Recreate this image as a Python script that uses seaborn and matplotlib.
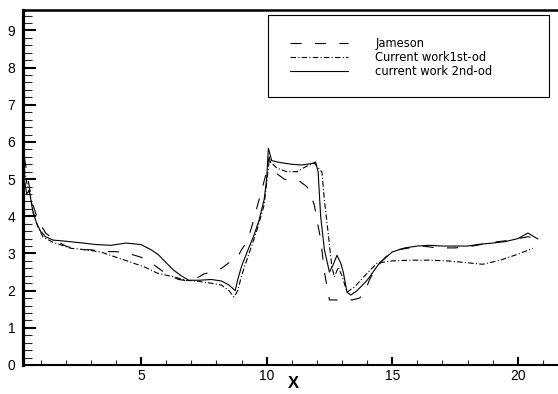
import matplotlib
matplotlib.use("Agg")
import matplotlib.pyplot as plt
from matplotlib.patches import Rectangle
from matplotlib.ticker import MultipleLocator
import seaborn as sns
import pandas as pd

# ---- data ----
x_jameson = [0.35, 0.45, 0.55, 0.7, 0.9, 1.2, 1.6, 2.0, 2.5, 3.0, 3.5, 4.0, 4.5, 5.0, 5.5, 6.0,
             6.5, 7.0, 7.5, 7.8, 8.2, 8.5, 8.8, 9.0, 9.2, 9.4, 9.6, 9.8, 10.0, 10.1, 10.2, 10.4,
             10.7, 11.0, 11.3, 11.6, 11.75, 11.9, 12.0, 12.15, 12.3, 12.5, 12.8, 13.1, 13.4,
             13.7, 13.9, 14.1, 14.4, 14.8, 15.2, 15.7, 16.2, 16.8, 17.5, 18.2, 19.0, 19.6,
             20.0, 20.4, 20.8]
y_jameson = [5.6, 5.2, 4.8, 4.3, 3.9, 3.55, 3.35, 3.2, 3.1, 3.1, 3.05, 3.05, 3.0, 2.9, 2.7, 2.45,
             2.3, 2.25, 2.45, 2.5, 2.6, 2.75, 2.85, 3.1, 3.3, 3.7, 4.2, 4.7, 5.2, 5.6, 5.3, 5.15,
             5.0, 4.95, 4.95, 4.8, 4.6, 4.3, 3.9, 3.4, 2.5, 1.75, 1.75, 1.78, 1.75,
             1.8, 1.95, 2.3, 2.65, 2.95, 3.1, 3.15, 3.2, 3.15, 3.15, 3.2, 3.3, 3.35,
             3.4, 3.45, 3.4]

x_first = [0.35, 0.45, 0.6, 0.75, 0.9, 1.1, 1.5, 2.2, 2.8, 3.4, 4.0, 4.7, 5.2, 5.65, 6.3, 6.8,
           7.3, 7.8, 8.2, 8.5, 8.7, 8.85, 9.0, 9.3, 9.6, 9.9, 10.1, 10.4, 10.8, 11.2, 11.6,
           11.9, 12.2, 12.3, 12.45, 12.6, 12.7, 12.85, 13.0, 13.2, 13.5, 14.0, 14.4, 15.0,
           15.7, 16.5, 17.2, 17.7, 18.6, 19.3, 20.0, 20.6]
y_first = [5.3, 4.9, 4.5, 4.0, 3.7, 3.44, 3.3, 3.14, 3.1, 3.04, 2.9, 2.74, 2.62, 2.47, 2.37, 2.28,
           2.25, 2.2, 2.15, 2.0, 1.83, 2.0, 2.4, 3.0, 3.6, 4.3, 5.5, 5.3, 5.2, 5.2, 5.35,
           5.43, 5.19, 4.43, 3.55, 2.63, 2.37, 2.63, 2.4, 1.96, 2.1, 2.47, 2.74, 2.8,
           2.82, 2.82, 2.8, 2.77, 2.71, 2.82, 2.98, 3.14]

x_second = [0.35, 0.45, 0.55, 0.7, 0.85, 1.0, 1.2, 1.5, 2.0, 2.7, 3.2, 3.8, 4.4, 5.0, 5.4, 5.7,
            6.0, 6.3, 6.6, 6.9, 7.3, 7.8, 8.2, 8.5, 8.75, 8.85, 9.0, 9.2, 9.5, 9.7, 9.9, 10.0,
            10.07, 10.2, 10.5, 11.0, 11.4, 11.8, 11.95, 12.05, 12.15, 12.3, 12.5, 12.65, 12.8,
            12.95, 13.05, 13.2, 13.35, 13.6, 14.0, 14.5, 15.0, 15.5, 16.0, 16.5, 17.0, 17.5,
            18.0, 18.5, 19.0, 19.5, 20.0, 20.4, 20.8]
y_second = [5.0, 4.6, 4.7, 4.1, 3.8, 3.6, 3.45, 3.36, 3.33, 3.28, 3.24, 3.22, 3.28, 3.24, 3.1, 2.96,
            2.75, 2.55, 2.4, 2.28, 2.28, 2.3, 2.26, 2.15, 2.0, 2.3, 2.65, 3.0, 3.5, 3.9, 4.45, 5.0,
            5.83, 5.5, 5.45, 5.4, 5.38, 5.42, 5.46, 5.2, 4.0, 3.1, 2.5, 2.7, 2.95,
            2.74, 2.5, 1.96, 1.88, 2.0, 2.28, 2.75, 3.04, 3.15, 3.2, 3.22, 3.2, 3.2,
            3.2, 3.25, 3.28, 3.32, 3.4, 3.55, 3.39]

labels = ["Jameson", "Current work1st-od", "current work 2nd-od"]
x_ticks = [5, 10, 15, 20]
y_ticks = [0, 1, 2, 3, 4, 5, 6, 7, 8, 9]

df = pd.concat([
    pd.DataFrame({"x": x_jameson, "y": y_jameson, "series": labels[0]}),
    pd.DataFrame({"x": x_first, "y": y_first, "series": labels[1]}),
    pd.DataFrame({"x": x_second, "y": y_second, "series": labels[2]}),
], ignore_index=True)

sns.set_theme(style="white")
plt.rcParams["font.family"] = ["Liberation Sans", "DejaVu Sans"]

W, H = 558, 394
fig = plt.figure(figsize=(W / 100, H / 100), dpi=100)
ax = fig.add_axes([23 / W, (H - 365) / H, (W - 23) / W, (365 - 10) / H])

dash_map = {labels[0]: (10, 12), labels[1]: (5, 2, 1, 2), labels[2]: ""}
sns.lineplot(data=df, x="x", y="y", style="series", style_order=labels, dashes=dash_map,
             color="black", linewidth=0.8, sort=False, estimator=None, ax=ax)

ax.set_xlim(0.3, 21.6)
ax.set_ylim(0, 9.55)
ax.set_xticks(x_ticks)
ax.set_yticks(y_ticks)
ax.xaxis.set_minor_locator(MultipleLocator(1))
ax.yaxis.set_minor_locator(MultipleLocator(0.2))

ax.tick_params(axis="y", which="major", direction="in", length=9.4, width=1.5,
               labelsize=10, pad=5.5, colors="black", left=True)
ax.tick_params(axis="y", which="minor", direction="in", length=6.3, width=0.8, left=True)
ax.tick_params(axis="x", which="major", direction="in", length=6, width=1.5,
               labelsize=10, pad=3, colors="black", bottom=True)
ax.tick_params(axis="x", which="minor", direction="in", length=3.6, width=0.8, bottom=True)

for side, lw in [("left", 2.3), ("bottom", 1.5), ("top", 1.8)]:
    ax.spines[side].set_linewidth(lw)
    ax.spines[side].set_color("black")
ax.spines["right"].set_visible(False)

ax.set_ylabel("")
ax.set_xlabel("")
fig.text(293 / W, 1 - 383 / H, "X", ha="center", va="center", fontsize=12,
         fontweight="bold", color="black")

handles, labs = ax.get_legend_handles_labels()
hl = dict(zip(labs, handles))
leg = fig.legend([hl[l] for l in labels], labels, loc="upper left",
                 bbox_to_anchor=(290 / W, 1 - 37 / H), frameon=False,
                 prop={"family": "DejaVu Sans", "size": 8.3},
                 handlelength=5.0, handletextpad=2.4,
                 labelspacing=0.08, borderpad=0, borderaxespad=0)
for t in leg.get_texts():
    t.set_color("black")
if ax.get_legend() is not None:
    ax.get_legend().remove()

fig.patches.append(Rectangle((268 / W, 1 - 97 / H), (549 - 268) / W, (97 - 15) / H,
                             transform=fig.transFigure, fill=False, edgecolor="black",
                             linewidth=0.8))

fig.savefig("out.png", dpi=100, facecolor="white")
